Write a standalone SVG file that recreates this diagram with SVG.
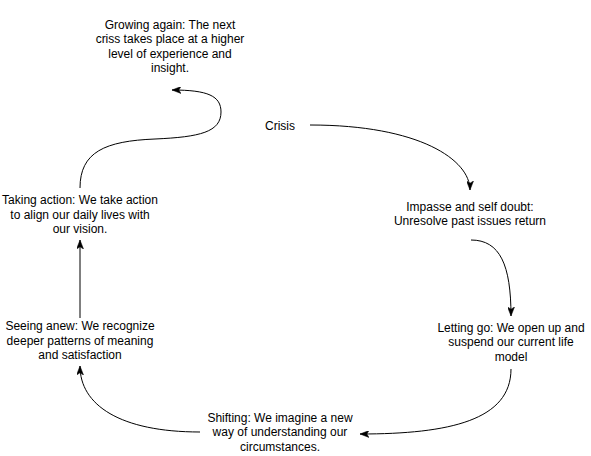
<svg xmlns="http://www.w3.org/2000/svg" width="591" height="456" viewBox="0 0 591 456">
  <style>
    .lbl { font-family: "Liberation Sans", Arial, Helvetica, sans-serif; font-size: 12px; fill: #000000; text-anchor: middle; }
    .edge { fill: none; stroke: #000000; stroke-width: 1; marker-end: url(#arrow); }
  </style>
  <defs>
    <marker id="arrow" viewBox="0 0 9 7" refX="9" refY="3.5" markerWidth="9" markerHeight="7" markerUnits="userSpaceOnUse" orient="auto">
      <path d="M0,0 L9,3.5 L0,7 L2.2,3.5 Z" fill="#000000" stroke="#000000" stroke-width="0.5"/>
    </marker>
  </defs>
  <rect width="591" height="456" fill="#ffffff"/>

  <g id="connectors">
    <path class="edge" d="M310 125 C 420 125, 470 160, 470 190"/>
    <path class="edge" d="M471 240 C 500 240, 511 265, 511 316"/>
    <path class="edge" d="M511 369 C 511 420, 450 434, 360 434"/>
    <path class="edge" d="M200 432 C 120 432, 80 405, 80 366"/>
    <path class="edge" d="M80 318 L 80 240"/>
    <path class="edge" d="M80 188 C 80 152, 105 141, 155 139 C 200 137, 221 132, 221 112 C 221 96, 208 90, 172 90"/>
  </g>

  <g id="node-growing">
    <text class="lbl" x="170" y="28.5">Growing again: The next</text>
    <text class="lbl" x="170" y="43">criss takes place at a higher</text>
    <text class="lbl" x="170" y="57.5">level of experience and</text>
    <text class="lbl" x="170" y="72">insight.</text>
  </g>

  <g id="node-crisis">
    <text class="lbl" x="280" y="129.5">Crisis</text>
  </g>

  <g id="node-impasse">
    <text class="lbl" x="470" y="210.5">Impasse and self doubt:</text>
    <text class="lbl" x="470" y="225">Unresolve past issues return</text>
  </g>

  <g id="node-letting-go">
    <text class="lbl" x="511" y="331.5">Letting go: We open up and</text>
    <text class="lbl" x="511" y="346">suspend our current life</text>
    <text class="lbl" x="511" y="360.5">model</text>
  </g>

  <g id="node-shifting">
    <text class="lbl" x="280" y="421.5">Shifting: We imagine a new</text>
    <text class="lbl" x="280" y="436">way of understanding our</text>
    <text class="lbl" x="280" y="450.5">circumstances.</text>
  </g>

  <g id="node-seeing-anew">
    <text class="lbl" x="80" y="330">Seeing anew: We recognize</text>
    <text class="lbl" x="80" y="344.5">deeper patterns of meaning</text>
    <text class="lbl" x="80" y="359">and satisfaction</text>
  </g>

  <g id="node-taking-action">
    <text class="lbl" x="80" y="204">Taking action: We take action</text>
    <text class="lbl" x="80" y="218.5">to align our daily lives with</text>
    <text class="lbl" x="80" y="233">our vision.</text>
  </g>
</svg>
